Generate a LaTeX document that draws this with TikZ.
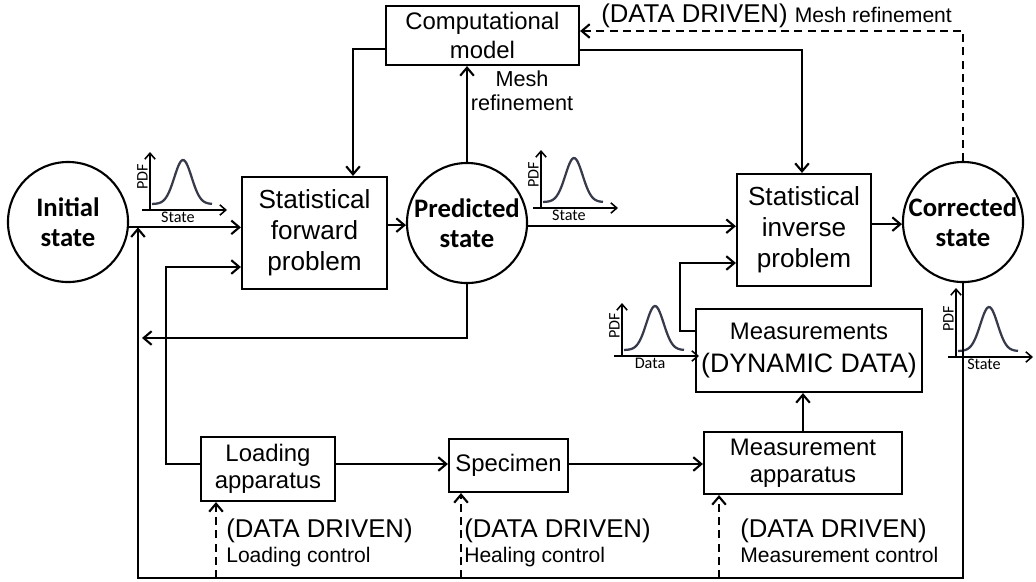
\documentclass[tikz,border=0pt]{standalone}
\usepackage{fontspec}
\setmainfont{Liberation Sans}
\newfontfamily\calibri{Carlito}
\usetikzlibrary{arrows.meta}

\begin{document}
\begin{tikzpicture}[x=0.025cm,y=-0.025cm,
	every node/.style={inner sep=0pt},
	box/.style={draw,line width=1.5pt,align=center,font=\fontsize{17}{19}\selectfont},
	statbox/.style={box,minimum width=3.5cm,minimum height=2.8cm,font=\fontsize{18.6}{22}\selectfont},
	statenode/.style={draw,circle,line width=1.5pt,minimum size=3cm,align=center,font=\calibri\bfseries\fontsize{19}{21.3}\selectfont},
	conn/.style={line width=1.5pt,-{Straight Barb[length=2mm,width=3.4mm]}},
	ddline/.style={conn,dash pattern=on 0.2cm off 0.13cm},
	ddtext/.style={font=\fontsize{18.3}{20}\selectfont},
	ctltext/.style={font=\fontsize{15}{17}\selectfont},
	axis/.style={line width=1.1pt,-{Straight Barb[length=1.5mm,width=2.6mm]}},
	curve/.style={line width=1.6pt,color={rgb,255:red,55;green,58;blue,75}},
	pdflbl/.style={font=\calibri\fontsize{11.5}{12}\selectfont}]
	\newcommand{\mypdfplot}[4]{
		\begin{scope}[shift={(#1,#2)}]
			\draw[axis] (-8,0) -- (77,0);
			\draw[axis] (0,0) -- (0,-#3);
			\draw[curve] plot[domain=2:62,samples=50,smooth] (\x,{-6-44*exp(-((\x-33)^2)/150)});
			\node[pdflbl,rotate=90,anchor=south] at (-2,{-#3/2-4}) {PDF};
			\node[pdflbl,anchor=north] at (28,2) {#4};
		\end{scope}
	}
	\useasboundingbox (0,0) rectangle (1036,581);
	%States
	\node[statenode] (init) at (68,222) {Initial\\state};
	\node[statenode] (pred) at (467,223) {Predicted\\state};
	\node[statenode] (corr) at (963,222) {Corrected\\state};
	%Statistical problems and the model
	\node[statbox,minimum width=3.625cm] (fwd) at (314.5,233) {Statistical\\forward\\problem};
	\node[statbox,minimum width=3.35cm] (inv) at (804,230) {Statistical\\inverse\\problem};
	\node[box,minimum width=4.825cm,minimum height=1.475cm,font=\fontsize{17}{20.6}\selectfont] (comp) at (482.5,35.5) {Computational\\model};
	%Experiment
	\node[box,minimum width=5.65cm,minimum height=2.075cm,font=\fontsize{17}{23.5}\selectfont] (meas) at (809,350.5) {Measurements\\{\fontsize{19}{23.5}\selectfont(DYNAMIC DATA)}};
	\node[box,minimum width=4.95cm,minimum height=1.55cm] (mapp) at (803,463) {Measurement\\apparatus};
	\node[box,minimum width=3.35cm,minimum height=1.6cm] (load) at (268,469) {Loading\\apparatus};
	\node[box,minimum width=2.975cm,minimum height=1.325cm] (spec) at (508.5,465.5) {Specimen};
	%Labels
	\node[align=center,font=\fontsize{15.4}{17}\selectfont] (meshlbl) at (522,91) {Mesh\\refinement};
	\node[anchor=base west] (ddmesh) at (601,22) {\fontsize{18.3}{20}\selectfont(DATA DRIVEN) \fontsize{15}{17}\selectfont Mesh refinement};
	\foreach \nd/\xx/\ctl in {load/226/Loading control,spec/464/Healing control,mapp/740/Measurement control} {
		\node[ddtext,anchor=base west] (dd\nd) at (\xx,537) {(DATA DRIVEN)};
		\node[ctltext,anchor=base west] (ctl\nd) at (\xx,562) {\ctl};
	}
	%PDF sketches
	\mypdfplot{150}{210}{58}{State}
	\mypdfplot{541}{208}{58}{State}
	\mypdfplot{622}{356}{53}{Data}
	\mypdfplot{956}{357}{69}{State}
	%Main chain
	\draw[conn] (init.-5) -- (init.-5 -| fwd.west);
	\draw[conn] (fwd.east |- pred.182) -- (pred.182);
	\draw[conn] (pred.-3) -- (pred.-3 -| inv.west);
	\draw[conn] (inv.east |- corr.182) -- (corr.182);
	%Mesh refinement
	\draw[conn] (pred.north) -- (pred.north |- comp.south);
	%Model into the statistical problems
	\coordinate (kfwd) at (353,49);
	\coordinate (kinv) at (802,50);
	\draw[conn] (comp.west |- kfwd) -- (kfwd) -- (kfwd |- fwd.north);
	\draw[conn] (comp.east |- kinv) -- (kinv) -- (kinv |- inv.north);
	%Data driven mesh refinement
	\coordinate (kmesh) at (963,31);
	\draw[ddline] (corr.north) -- (corr.north |- kmesh) -- (kmesh -| comp.east);
	%Feedback of the predicted state
	\coordinate (kpred) at (142,338);
	\draw[conn] (pred.south) -- (pred.south |- kpred) -- (kpred);
	%Feedback of the corrected state
	\coordinate (kloop) at (138,578);
	\draw[conn] (corr.south) -- (corr.south |- kloop) -- (kloop) -- (kloop |- init.-5);
	%Loading into the forward problem
	\coordinate (kload) at (166,464);
	\coordinate (kfwdin) at (166,267);
	\draw[conn] (load.west |- kload) -- (kload) -- (kfwdin) -- (kfwdin -| fwd.west);
	\draw[conn] (load.east |- kload) -- (kload -| spec.west);
	\draw[conn] (spec.east |- kload) -- (kload -| mapp.west);
	\draw[conn] (mapp.north) -- (mapp.north |- meas.south);
	%Measurements into the inverse problem
	\coordinate (kmeas) at (680,331);
	\coordinate (kinvin) at (680,263);
	\draw[conn] (meas.west |- kmeas) -- (kmeas) -- (kinvin) -- (kinvin -| inv.west);
	%Data driven controls
	\foreach \nd/\xx in {load/216,spec/461,mapp/719} {
		\coordinate (kd\nd) at (\xx,578);
		\draw[ddline] (kd\nd) -- (kd\nd |- \nd.south);
	}
\end{tikzpicture}
\end{document}
